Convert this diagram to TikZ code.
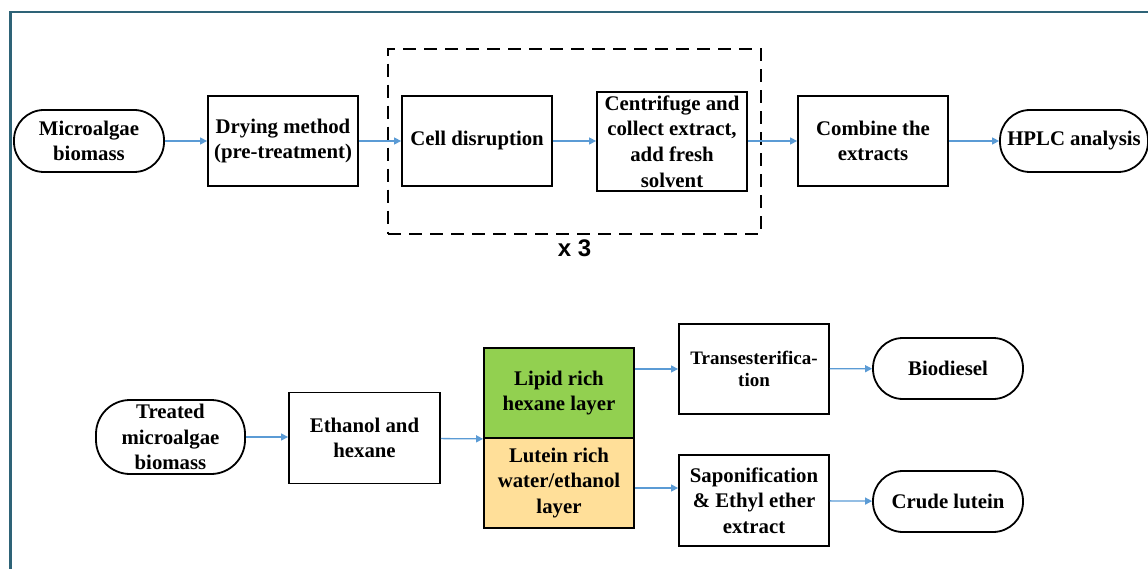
\documentclass[tikz,border=0pt]{standalone}
\usepackage{fontspec}
\setmainfont{Liberation Serif}
\setsansfont{Liberation Sans}
\usetikzlibrary{positioning,fit,arrows.meta}
\definecolor{framecol}{HTML}{2E6377}
\definecolor{flowblue}{HTML}{5B9BD5}
\definecolor{lipidgreen}{HTML}{92D050}
\definecolor{luteinyellow}{HTML}{FFDF99}
\begin{document}
\begin{tikzpicture}
    [x=1pt, y=-1pt,
    font=\rmfamily\bfseries\fontsize{20.8}{25.6}\selectfont,
    stepbox/.style={draw=black, line width=1.8pt, minimum width=150pt,
        minimum height=90pt, align=center, inner sep=0pt},
    endbox/.style={stepbox, rounded corners=30pt, minimum height=62pt},
    flow/.style={draw=flowblue, line width=1.3pt, -{Triangle[length=7pt, width=7pt]}},
    loopbox/.style={draw=black, line width=1.8pt, dash pattern=on 13pt off 8pt}]
    \useasboundingbox (0,0) rectangle (1148,569);
    \clip (0,0) rectangle (1148,569);
    % frame
    \draw [framecol, line width=2.5pt] (10.5,580) -- (10.5,12) -- (1160,12);
    % first line: extraction
    \node [endbox] (micro) at (89,141) {Microalgae\\biomass};
    \node [stepbox] (dry) at (283,141) {Drying method\\(pre-treatment)};
    \node [stepbox] (cell) at (477,141) {Cell disruption};
    \node [stepbox, minimum height=99pt] (centri) at (672,141.5)
        {Centrifuge and\\collect extract,\\add fresh\\solvent};
    \node [stepbox] (comb) at (873,141) {Combine the\\extracts};
    \node [endbox, minimum width=148pt] (hplc) at (1074,141) {HPLC analysis};
    \node [loopbox, fit=(cell)(centri), inner xsep=13pt, inner ysep=42pt] (loop) {};
    \node [below=1pt of loop, font=\sffamily\bfseries\fontsize{24}{28}\selectfont] (times) {x 3};
    \draw [flow] (micro) -- (dry);
    \draw [flow] (dry) -- (cell);
    \draw [flow] (cell) -- (centri.west |- cell);
    \draw [flow] (centri.east |- cell) -- (comb);
    \draw [flow] (comb) -- (hplc);
    % second line: separation
    \node [endbox, minimum width=149pt, minimum height=74pt, rounded corners=34pt] (treated) at (170.5,437)
        {Treated\\microalgae\\biomass};
    \node [stepbox, minimum width=151pt, minimum height=91pt] (etoh) at (364.5,438) {Ethanol and\\hexane};
    \node [stepbox, fill=lipidgreen] (lipid) at (559,393) {Lipid rich\\hexane layer};
    \node [stepbox, fill=luteinyellow] (lutein) at (559,483) {Lutein rich\\water/ethanol\\layer};
    \node [stepbox, font=\rmfamily\bfseries\fontsize{19}{22.5}\selectfont] (trans) at (754,369)
        {Transesterifica-\\tion};
    \node [stepbox, minimum height=91pt] (sapon) at (754,500.5) {Saponification\\\& Ethyl ether\\extract};
    \node [endbox, minimum height=61pt] (bio) at (948,368.5) {Biodiesel};
    \node [endbox, minimum height=61pt] (crude) at (948,501.5) {Crude lutein};
    \draw [flow] (treated) -- (etoh.west |- treated);
    \draw [flow] (etoh) -- (lipid.south west);
    \draw [flow] (lipid.east |- trans) -- (trans);
    \draw [flow] ([yshift=-5pt]lutein.east) -- ([yshift=-5pt]lutein.east -| sapon.west);
    \draw [flow] (trans) -- (bio);
    \draw [flow] (sapon) -- (crude);
\end{tikzpicture}
\end{document}
